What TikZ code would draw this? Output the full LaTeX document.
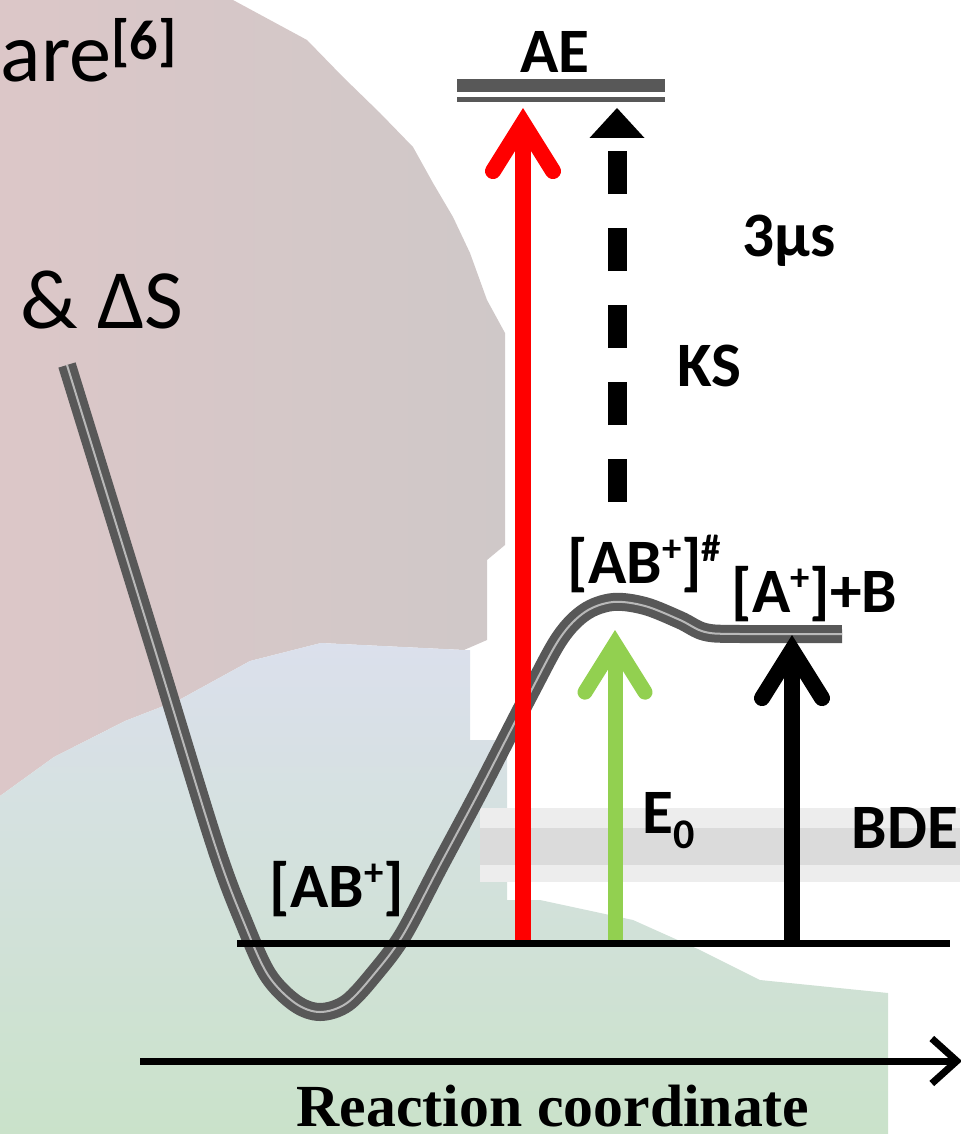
\documentclass[tikz,border=0pt]{standalone}
\usepackage{fontspec}
\setmainfont{Carlito}
\newfontfamily\axisfont{Liberation Serif}
\usetikzlibrary{arrows.meta}
\definecolor{pinkbg}{RGB}{220,199,200}
\definecolor{pinkgrey}{RGB}{207,200,200}
\definecolor{bluebg}{RGB}{219,224,236}
\definecolor{greenbg}{RGB}{202,226,202}
\definecolor{bandgrey}{RGB}{219,219,219}
\definecolor{bandlight}{RGB}{237,237,237}
\definecolor{curvegray}{RGB}{88,88,88}
\definecolor{curvelight}{RGB}{185,185,185}
\definecolor{aered}{RGB}{255,0,0}
\definecolor{ezerogreen}{RGB}{146,208,80}
\newcommand{\upmark}[1]{\raisebox{6pt}{\fontsize{11}{11}\selectfont\bfseries #1}}
\newcommand{\downmark}[1]{\raisebox{-4.3pt}{\fontsize{12}{12}\selectfont\bfseries #1}}
\tikzset{
  lbl/.style={font=\fontsize{18}{20}\selectfont\bfseries,inner sep=0pt,anchor=base west},
  slidetxt/.style={font=\fontsize{24}{28}\selectfont,inner sep=0pt,anchor=base west},
  pes/.style={draw=curvegray,line width=0.8mm,double=curvelight,double distance=0.2mm},
  levelln/.style={draw=curvegray},
  baseln/.style={line width=0.7mm},
  uparr/.style={line width=1.6mm,-{Straight Barb[length=4.8mm,width=6mm,line cap=round,line join=miter]}},
  ksarr/.style={line width=1.9mm,dash pattern=on 4.3mm off 3.4mm,-{Triangle[length=3mm,width=5.5mm,line width=0pt]}},
  axisarr/.style={line width=0.7mm,-{Straight Barb[length=2.5mm,width=4.5mm]}}
}
\begin{document}
\begin{tikzpicture}[x=0.1mm,y=-0.1mm]
  \useasboundingbox (0,0) rectangle (960,1134);
  % slide background
  \shade[left color=pinkbg,right color=pinkgrey] (0,0) -- (233,0) -- (270,20) -- (307,40) -- (343,77)
    -- (380,113) -- (413,147) -- (433,183) -- (453,217) -- (470,253) -- (487,300) -- (505,333)
    -- (505,545) -- (487,560) -- (487,640) -- (464,650) -- (321,643) -- (250,661) -- (179,700)
    -- (125,721) -- (54,757) -- (0,796) -- cycle;
  \shade[top color=bluebg,bottom color=greenbg] (0,796) -- (54,757) -- (125,721) -- (179,700)
    -- (250,661) -- (321,643) -- (464,650) -- (470,650) -- (470,740) -- (507,740) -- (507,900)
    -- (540,900) -- (633,920) -- (700,950) -- (760,980) -- (888,993) -- (888,1134) -- (0,1134) -- cycle;
  \fill[bandlight] (480,808) rectangle (960,882);
  \fill[bandgrey] (480,828) rectangle (960,865);

  % potential energy curve
  \draw[pes] plot[smooth,tension=0.55] coordinates {(67,365) (155,650) (215,845) (245,925) (268,975)
    (295,1003) (320,1012) (347,1003) (375,973) (403,935) (440,865) (480,790) (530,693) (560,638)
    (585,612) (613,602) (645,606) (680,620) (705,632) (740,634) (842,634)};

  % AE level
  \coordinate (aeL) at (457,86);
  \coordinate (aeR) at (665,86);
  \draw[levelln,line width=1.3mm] (aeL) -- (aeR);
  \draw[levelln,line width=0.5mm] ([yshift=-1.35mm]aeL) -- ([yshift=-1.35mm]aeR);

  % energy arrows
  \coordinate (redfoot) at (523,943);
  \coordinate (redtip) at (523,108);
  \draw[uparr,aered] (redfoot) -- (redtip);
  \coordinate (ezfoot) at (615,943);
  \coordinate (eztip) at (615,630);
  \draw[uparr,ezerogreen,line width=1.5mm] (ezfoot) -- (eztip);
  \coordinate (bdefoot) at (792,943);
  \coordinate (bdetip) at (792,635);
  \draw[uparr] (bdefoot) -- (bdetip);
  \coordinate (ksfoot) at (617,502);
  \coordinate (kstip) at (617,108);
  \draw[ksarr] (ksfoot) -- (kstip);

  \coordinate (baseL) at (237,943);
  \coordinate (baseR) at (950,943);
  \draw[baseln] (baseL) -- (baseR);
  \coordinate (axL) at (140,1061);
  \coordinate (axR) at (962,1061);
  \draw[axisarr] (axL) -- (axR);

  % labels
  \node[slidetxt] (are) at (0,82) {are\raisebox{6.3pt}{\fontsize{16}{16}\selectfont\bfseries[6]}};
  \node[slidetxt] (dels) at (20,328) {\& ΔS};
  \node[lbl,anchor=base] (ae) at (555,73) {AE};
  \node[lbl] (tms) at (742,257) {3µs};
  \node[lbl] (ks) at (677,387) {KS};
  \node[lbl] (ts) at (567,583) {[AB\upmark{+}]\upmark{\#}};
  \node[lbl] (prod) at (731,612) {[A\upmark{+}]+B};
  \node[lbl] (ezero) at (642,833) {E\downmark{0}};
  \node[lbl] (bde) at (851,848) {BDE};
  \node[lbl] (react) at (269,907) {[AB\upmark{+}]};
  \node[font=\axisfont\fontsize{17}{20}\selectfont\bfseries,inner sep=0pt,anchor=base] (rc) at (553,1126) {Reaction coordinate};
\end{tikzpicture}
\end{document}
